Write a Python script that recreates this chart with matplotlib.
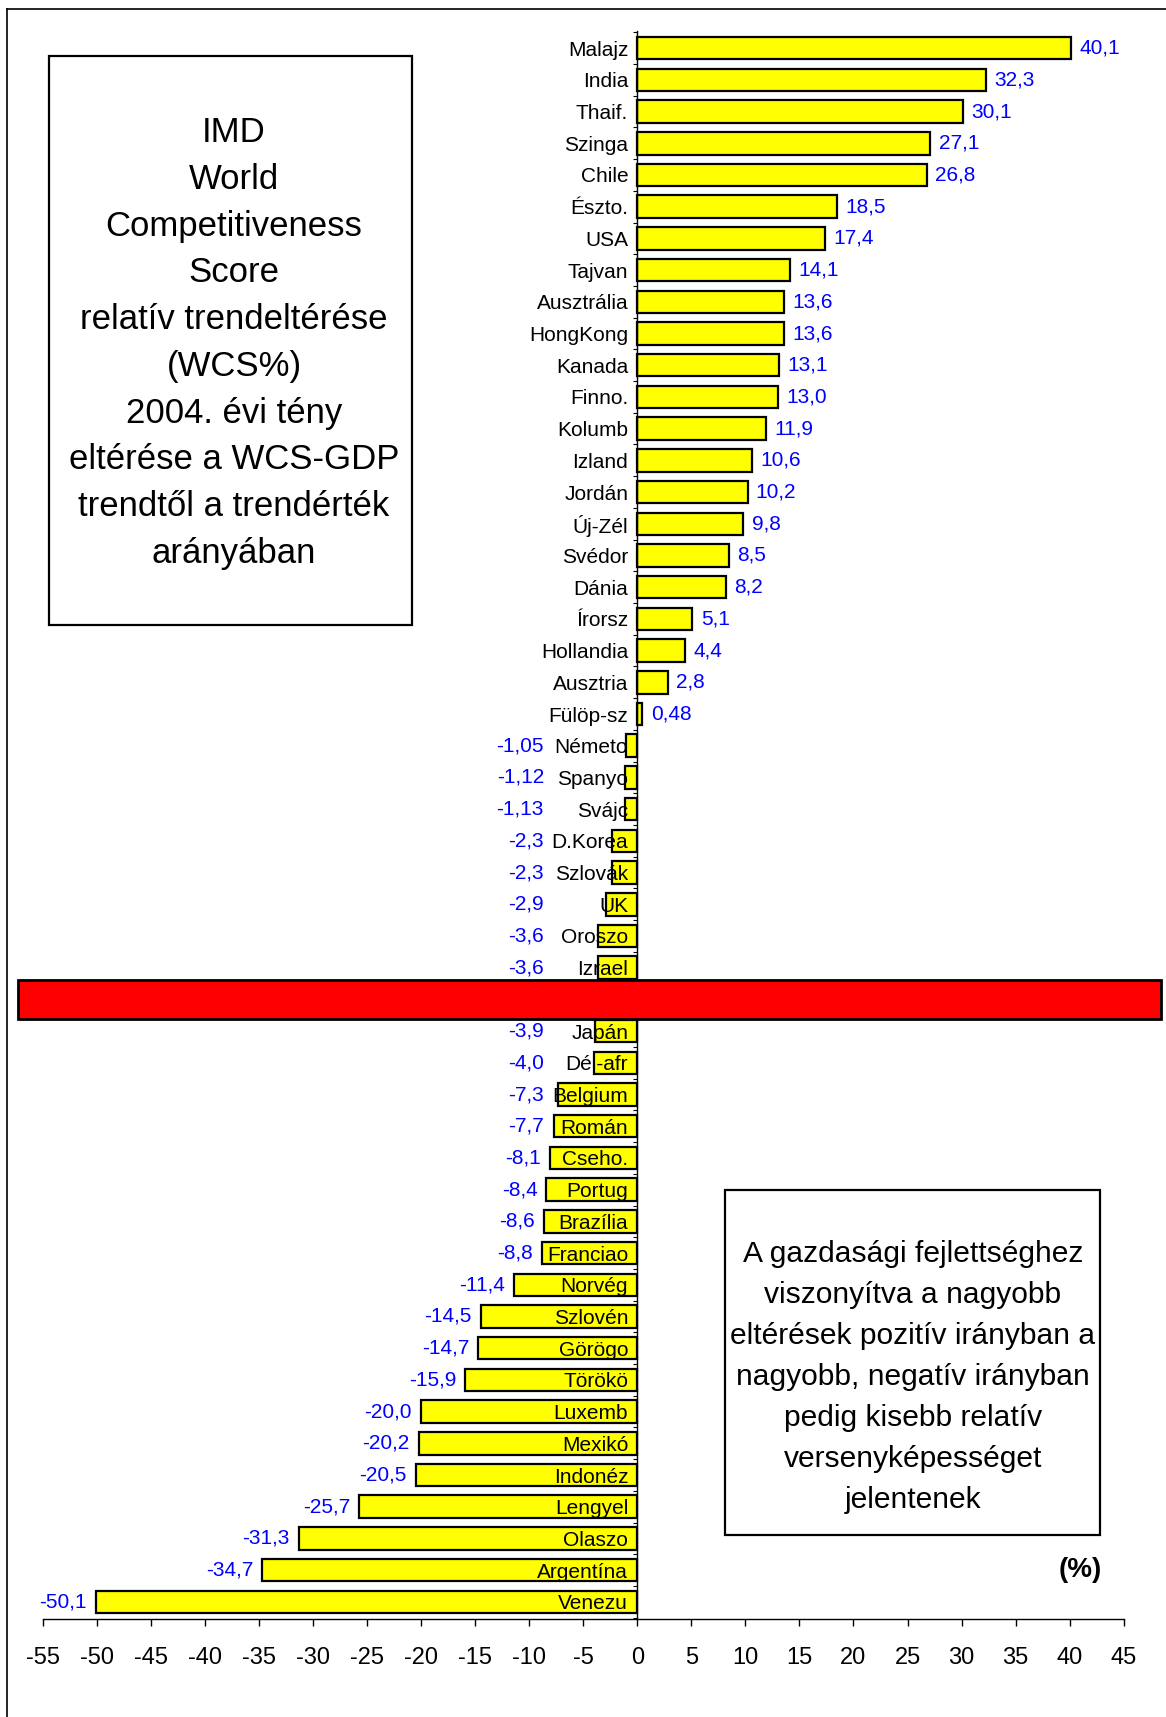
import numpy as np
import matplotlib.pyplot as plt
from matplotlib.patches import Rectangle
from matplotlib.lines import Line2D
import matplotlib.transforms as mtransforms

plt.rcParams['font.family'] = ['Liberation Sans', 'DejaVu Sans']
plt.rcParams['axes.unicode_minus'] = False

# data (top to bottom); Magyar row is hidden under the red box
countries = ['Malajz', 'India', 'Thaif.', 'Szinga', 'Chile', 'Észto.', 'USA', 'Tajvan',
             'Ausztrália', 'HongKong', 'Kanada', 'Finno.', 'Kolumb', 'Izland', 'Jordán',
             'Új-Zél', 'Svédor', 'Dánia', 'Írorsz', 'Hollandia', 'Ausztria', 'Fülöp-sz',
             'Németo', 'Spanyo', 'Svájc', 'D.Korea', 'Szlovák', 'UK', 'Oroszo', 'Izrael',
             'Magyar', 'Japán', 'Dél-afr', 'Belgium', 'Román', 'Cseho.', 'Portug',
             'Brazília', 'Franciao', 'Norvég', 'Szlovén', 'Görögo', 'Törökö', 'Luxemb',
             'Mexikó', 'Indonéz', 'Lengyel', 'Olaszo', 'Argentína', 'Venezu']
values = [40.1, 32.3, 30.1, 27.1, 26.8, 18.5, 17.4, 14.1, 13.6, 13.6, 13.1, 13.0, 11.9,
          10.6, 10.2, 9.8, 8.5, 8.2, 5.1, 4.4, 2.8, 0.48, -1.05, -1.12, -1.13, -2.3, -2.3,
          -2.9, -3.6, -3.6, np.nan, -3.9, -4.0, -7.3, -7.7, -8.1, -8.4, -8.6, -8.8, -11.4,
          -14.5, -14.7, -15.9, -20.0, -20.2, -20.5, -25.7, -31.3, -34.7, -50.1]
value_labels = ['40,1', '32,3', '30,1', '27,1', '26,8', '18,5', '17,4', '14,1', '13,6',
                '13,6', '13,1', '13,0', '11,9', '10,6', '10,2', '9,8', '8,5', '8,2', '5,1',
                '4,4', '2,8', '0,48', '-1,05', '-1,12', '-1,13', '-2,3', '-2,3', '-2,9',
                '-3,6', '-3,6', '', '-3,9', '-4,0', '-7,3', '-7,7', '-8,1', '-8,4', '-8,6',
                '-8,8', '-11,4', '-14,5', '-14,7', '-15,9', '-20,0', '-20,2', '-20,5',
                '-25,7', '-31,3', '-34,7', '-50,1']
x_ticks = list(range(-55, 50, 5))
hidden_row = 'Magyar'

left_text = ['IMD', 'World', 'Competitiveness', 'Score', 'relatív trendeltérése',
             '(WCS%)', '2004. évi tény', 'eltérése a WCS-GDP', 'trendtől a trendérték',
             'arányában']
right_text = ['A gazdasági fejlettséghez', 'viszonyítva a nagyobb',
              'eltérések pozitív irányban a', 'nagyobb, negatív irányban',
              'pedig kisebb relatív', 'versenyképességet', 'jelentenek']

W, H = 1166, 1717
fig = plt.figure(figsize=(W / 100, H / 100), dpi=100)


def fx(px):
    return px / W


def fy(py):
    return 1 - py / H


ax = fig.add_axes([fx(42.7), fy(1619), fx(1123.7) - fx(42.7), fy(31) - fy(1619)])

y = np.arange(len(countries))
ax.barh(y, values, height=0.71, color='#FFFF00', edgecolor='black', linewidth=1.6)

ax.set_xlim(-55, 45)
ax.set_ylim(len(countries) - 0.46, -0.54)

ax.spines['top'].set_visible(False)
ax.spines['right'].set_visible(False)
ax.spines['left'].set_position(('data', 0))
ax.spines['left'].set_linewidth(1.0)
ax.spines['bottom'].set_linewidth(1.0)

ax.set_yticks(y)
ax.set_yticklabels(countries)
ax.set_yticks(np.arange(-0.5, len(countries), 1), minor=True)
ax.tick_params(axis='y', which='major', length=0, pad=6.5, labelsize=15)
ax.tick_params(axis='y', which='minor', length=3, width=0.8, direction='out')

ax.set_xticks(x_ticks)
ax.set_xticklabels([str(t) for t in x_ticks])
ax.tick_params(axis='x', which='major', length=5, width=1.0, pad=15, labelsize=17)

# value labels
for i, (v, lab) in enumerate(zip(values, value_labels)):
    if np.isnan(v):
        continue
    if v >= 0:
        ax.annotate(lab, (v, i), xytext=(6, 0), textcoords='offset points',
                    ha='left', va='center', color='#0000FF', fontsize=15)
    else:
        ax.annotate(lab, (min(v, -7.8), i), xytext=(-6.5, 0), textcoords='offset points',
                    ha='right', va='center', color='#0000FF', fontsize=15)

# red box covering the hidden row
k = countries.index(hidden_row)
trans = mtransforms.blended_transform_factory(ax.transAxes, ax.transData)
x0 = (18 - 42.7) / (1123.7 - 42.7)
x1 = (1161 - 42.7) / (1123.7 - 42.7)
ax.add_patch(Rectangle((x0, k - 0.615), x1 - x0, 1.23, transform=trans,
                       facecolor='#FF0000', edgecolor='black', linewidth=2,
                       clip_on=False, zorder=10))

# left text box
fig.patches.append(Rectangle((fx(49.3), fy(625)), fx(411.6) - fx(49.3), fy(55.8) - fy(625),
                             transform=fig.transFigure, fill=False, edgecolor='black',
                             linewidth=1.6))
pitch = 46.7
top = 343 - pitch * (len(left_text) - 1) / 2
for j, line in enumerate(left_text):
    fig.text(fx(234), fy(top + j * pitch), line, ha='center', va='center', fontsize=25)

# right text box
fig.patches.append(Rectangle((fx(724.7), fy(1535)), fx(1100.3) - fx(724.7), fy(1190) - fy(1535),
                             transform=fig.transFigure, fill=False, edgecolor='black',
                             linewidth=1.6))
pitch = 40.9
top = 1377 - pitch * (len(right_text) - 1) / 2
for j, line in enumerate(right_text):
    fig.text(fx(913), fy(top + j * pitch), line, ha='center', va='center', fontsize=21.6)

fig.text(fx(1080.6), fy(1570), '(%)', ha='center', va='center', fontsize=20,
         fontweight='bold')

# outer frame (top and left edges)
fig.lines.append(Line2D([fx(7), 1], [fy(9), fy(9)], transform=fig.transFigure,
                        color='black', linewidth=1.2))
fig.lines.append(Line2D([fx(7), fx(7)], [0, fy(9)], transform=fig.transFigure,
                        color='black', linewidth=1.2))

fig.savefig('out.png', dpi=100)
